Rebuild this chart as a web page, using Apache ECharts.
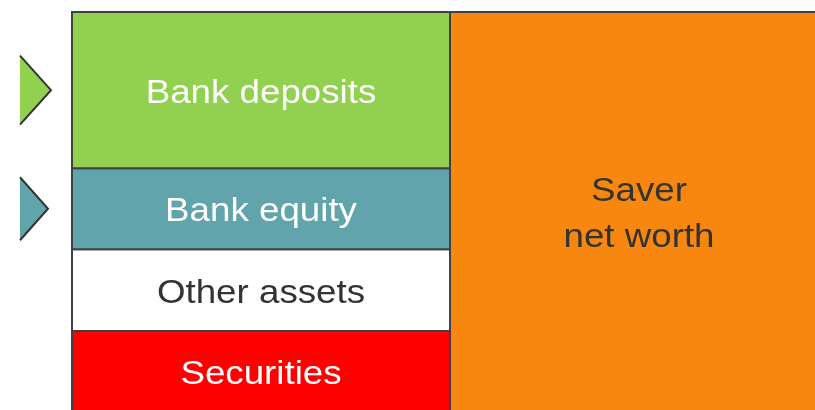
<!DOCTYPE html>
<html>
<head>
<meta charset="utf-8">
<script src="https://cdn.jsdelivr.net/npm/echarts@6/dist/echarts.min.js"></script>
<style>
html, body { margin: 0; padding: 0; background: #fff; }
#chart { width: 815px; height: 410px; }
</style>
</head>
<body>
<div id="chart"></div>
<script>
// the two columns of the saver's balance sheet
var columns = ['Assets', 'Net worth'];
// left column, bottom to top
var assetNames = ['Securities', 'Other assets', 'Bank equity', 'Bank deposits'];
var assetValues = [100, 101, 100, 193];
// right column
var worthNames = ['Saver\nnet worth'];
var worthValues = [494];
// blocks pointed at by an arrow on the left
var arrowTargets = ['Bank deposits', 'Bank equity'];

var fills = {
  'Securities': '#ff0000',
  'Other assets': '#ffffff',
  'Bank equity': '#62a4ac',
  'Bank deposits': '#92d050',
  'Saver\nnet worth': '#f7870e'
};
var textColors = { 'Other assets': '#333333', 'Saver\nnet worth': '#333333' };
// [length, half height] of each arrow, in px
var arrowSize = { 'Bank deposits': [31, 34.5], 'Bank equity': [28, 31.5] };

function stack(col, names, values) {
  var out = [], base = 0;
  for (var i = 0; i < names.length; i++) {
    out.push({ value: [col, base, base + values[i]], name: names[i] });
    base += values[i];
  }
  return out;
}
var blocks = stack(0, assetNames, assetValues).concat(stack(1, worthNames, worthValues));
var arrows = blocks.filter(function (b) { return arrowTargets.indexOf(b.name) >= 0; })
  .map(function (b) { return { value: [b.value[0], (b.value[1] + b.value[2]) / 2], name: b.name }; });

function renderBlock(params, api) {
  var name = blocks[params.dataIndex].name;
  var lo = api.coord([api.value(0), api.value(1)]);
  var hi = api.coord([api.value(0), api.value(2)]);
  var w = api.size([1, 0])[0];
  return {
    type: 'group',
    children: [{
      type: 'rect',
      shape: { x: lo[0] - w / 2, y: hi[1], width: w, height: lo[1] - hi[1] },
      style: { fill: fills[name], stroke: '#404040', lineWidth: 2 }
    }, {
      type: 'text',
      x: lo[0],
      y: (lo[1] + hi[1]) / 2 + 3,
      scaleX: 1.08,
      style: {
        text: name,
        fill: textColors[name] || '#ffffff',
        fontSize: 34,
        fontFamily: 'Liberation Sans',
        lineHeight: 46,
        align: 'center',
        verticalAlign: 'middle'
      }
    }]
  };
}

function renderArrow(params, api) {
  var name = arrows[params.dataIndex].name;
  var c = api.coord([api.value(0), api.value(1)]);
  var left = c[0] - api.size([1, 0])[0] / 2;
  var s = arrowSize[name];
  var base = left - 52;
  var pts = [[base, c[1] - s[1]], [base + s[0], c[1]], [base, c[1] + s[1]]];
  return {
    type: 'group',
    children: [{
      type: 'polygon',
      shape: { points: pts },
      style: { fill: fills[name] }
    }, {
      type: 'polyline',
      shape: { points: pts },
      style: { fill: null, stroke: '#333333', lineWidth: 2 }
    }]
  };
}

var chart = echarts.init(document.getElementById('chart'));
chart.setOption({
  animation: false,
  grid: { left: 72, top: 12, width: 756, height: 400, outerBoundsMode: 'none', containLabel: false },
  xAxis: { type: 'category', data: columns, show: false },
  yAxis: { type: 'value', min: 0, max: 494, show: false },
  series: [{
    type: 'custom',
    renderItem: renderBlock,
    data: blocks
  }, {
    type: 'custom',
    renderItem: renderArrow,
    clip: false,
    data: arrows
  }]
});
</script>
</body>
</html>
